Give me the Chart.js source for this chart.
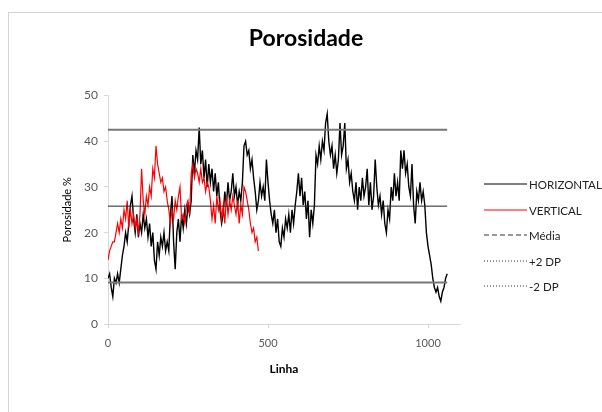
<!DOCTYPE html>
<html>
<head>
<meta charset="utf-8">
<script src="https://cdn.jsdelivr.net/npm/chart.js@4/dist/chart.umd.min.js"></script>
<style>
  body { margin: 0; background: #fff; font-family: Lato, "Open Sans", sans-serif; }
  #wrap { position: relative; width: 602px; height: 412px; overflow: hidden; }
  #frame { position: absolute; left: 8px; top: 12px; width: 600px; height: 410px;
           border-top: 1px solid #d4d4d4; border-left: 1px solid #d4d4d4; }
  #chart { position: absolute; left: 0; top: 0; }
  #legend { position: absolute; left: 484px; top: 178px; font-size: 11.5px; color: #222; }
  .item { height: 25.5px; display: flex; align-items: flex-start; }
  .item svg { margin-right: 2px; margin-top: 1px; }
</style>
</head>
<body>
<div id="wrap">
  <div id="frame"></div>
  <canvas id="chart" width="602" height="412"></canvas>
  <div id="legend"></div>
</div>
<script>
// porosidade por linha (lida a cada 5 linhas)
const linhaStep = 5;
const horizontalPorosidade = [
  10, 11, 8, 6, 10, 9, 11, 9, 12, 15,
  17, 20, 18, 22, 26, 28, 23, 20, 24, 19,
  22, 20, 24, 21, 23, 19, 22, 17, 20, 14,
  12, 18, 15, 19, 17, 20, 16, 18, 16, 24,
  28, 18, 12, 20, 23, 18, 24, 21, 25, 22,
  26, 24, 27, 37, 33, 38, 36, 43, 35, 38,
  32, 36, 30, 35, 31, 34, 29, 33, 28, 31,
  25, 22, 24, 29, 26, 31, 27, 29, 33, 28,
  30, 26, 29, 27, 31, 39, 40, 37, 38, 34,
  36, 32, 29, 25, 27, 31, 28, 30, 27, 36,
  31, 27, 24, 22, 25, 20, 23, 18, 17, 21,
  19, 23, 21, 24, 20, 25, 22, 26, 29, 33,
  28, 32, 26, 29, 23, 27, 19, 25, 22, 26,
  37, 35, 39, 36, 40, 38, 44, 46, 40, 37,
  39, 34, 37, 33, 36, 44, 37, 39, 44, 34,
  36, 31, 33, 29, 27, 31, 25, 30, 27, 32,
  28, 30, 34, 26, 31, 25, 28, 36, 30, 26,
  28, 24, 27, 22, 20, 25, 23, 30, 27, 33,
  28, 31, 27, 38, 34, 38, 33, 35, 30, 28,
  35, 26, 22, 29, 27, 31, 27, 29, 26, 20,
  17, 15, 13, 10, 8, 7, 8, 6, 5, 7,
  8, 10, 11
];
const verticalPorosidade = [
  14, 16, 17, 18, 18, 20, 22, 20, 23, 21,
  25, 23, 27, 21, 25, 22, 24, 21, 23, 20,
  24, 34, 27, 24, 28, 26, 30, 28, 34, 32,
  39, 35, 33, 31, 32, 29, 30, 27, 25, 22,
  25, 23, 27, 25, 28, 30, 23, 24, 22, 26,
  27, 24, 33, 35, 32, 34, 33, 31, 34, 31,
  32, 29, 31, 30, 27, 23, 26, 22, 28, 25,
  27, 23, 26, 22, 28, 24, 27, 25, 28, 26,
  24, 27, 22, 26, 24, 30, 29, 27, 25, 22,
  20, 21, 18, 19, 16
];
const media = 25.8;
const mais2DP = 42.5;
const menos2DP = 9.1;
const xTicks = [0, 500, 1000];
const yTicks = [0, 10, 20, 30, 40, 50];

function toPoints(values) {
  return values.map((v, i) => ({ x: i * linhaStep, y: v }));
}
const lastLinha = (horizontalPorosidade.length - 1) * linhaStep;
function flatLine(v) {
  return [{ x: 0, y: v }, { x: lastLinha, y: v }];
}

const series = [
  { label: 'HORIZONTAL', data: toPoints(horizontalPorosidade), borderColor: '#000', borderWidth: 1.4, order: 4, dash: [] },
  { label: 'VERTICAL', data: toPoints(verticalPorosidade), borderColor: '#ff0000', borderWidth: 1.2, order: 3, dash: [] },
  { label: 'Média', data: flatLine(media), borderColor: '#222', borderWidth: 1, order: 2, dash: [5, 3] },
  { label: '+2 DP', data: flatLine(mais2DP), borderColor: '#777', borderWidth: 2, order: 1, dash: [1, 2] },
  { label: '-2 DP', data: flatLine(menos2DP), borderColor: '#777', borderWidth: 2, order: 0, dash: [1, 2] }
];

// legenda em html, como no excel
let leg = '';
for (const s of series) {
  const c = s.label.indexOf('DP') >= 0 || s.label === 'Média' ? '#333' : s.borderColor;
  leg += `<div class="item"><svg width="43" height="10"><line x1="0" y1="5" x2="43" y2="5" stroke="${c}" stroke-width="1" stroke-dasharray="${s.dash.join(',')}"/></svg>${s.label}</div>`;
}
document.getElementById('legend').innerHTML = leg;

const ctx = document.getElementById('chart').getContext('2d');
new Chart(ctx, {
  type: 'line',
  data: {
    datasets: series.map(s => ({
      label: s.label,
      data: s.data,
      borderColor: s.borderColor,
      borderWidth: s.borderWidth,
      order: s.order,
      pointRadius: 0,
      tension: 0,
      fill: false
    }))
  },
  options: {
    responsive: false,
    animation: false,
    layout: { padding: { left: 10, right: 0, bottom: 36, top: 0 } },
    plugins: {
      legend: { display: false },
      tooltip: { enabled: false },
      title: {
        display: true,
        text: 'Porosidade',
        color: '#000',
        font: { family: 'Lato', size: 23, weight: 'bold' },
        padding: { top: 25, bottom: 43 }
      }
    },
    scales: {
      x: {
        type: 'linear',
        min: 0,
        max: 1100,
        afterBuildTicks: axis => { axis.ticks = xTicks.map(v => ({ value: v })); },
        afterFit: axis => { axis.height = 52; },
        grid: { drawOnChartArea: false, color: '#d9d9d9', tickLength: 4 },
        border: { color: '#d9d9d9' },
        ticks: { color: '#595959', font: { family: 'Lato', size: 11 }, padding: 9, maxRotation: 0, callback: v => String(v) },
        title: { display: true, text: 'Linha', color: '#000', font: { family: 'Lato', size: 12, weight: 'bold' }, padding: { top: 0, bottom: 0 } }
      },
      y: {
        min: 0,
        max: 50,
        afterBuildTicks: axis => { axis.ticks = yTicks.map(v => ({ value: v })); },
        afterFit: axis => { axis.width = 98; },
        grid: { drawOnChartArea: false, color: '#d9d9d9', tickLength: 4 },
        border: { color: '#d9d9d9' },
        ticks: { color: '#595959', font: { family: 'Lato', size: 12 }, padding: 6 },
        title: { display: true, text: 'Porosidade %', color: '#000', font: { family: 'Lato', size: 11 }, padding: { top: 51, bottom: 0 } }
      },
      // espaco reservado para a legenda
      espaco: {
        type: 'linear',
        position: 'right',
        afterFit: axis => { axis.width = 142; },
        grid: { display: false },
        border: { display: false },
        ticks: { display: false }
      }
    }
  }
});
</script>
</body>
</html>
